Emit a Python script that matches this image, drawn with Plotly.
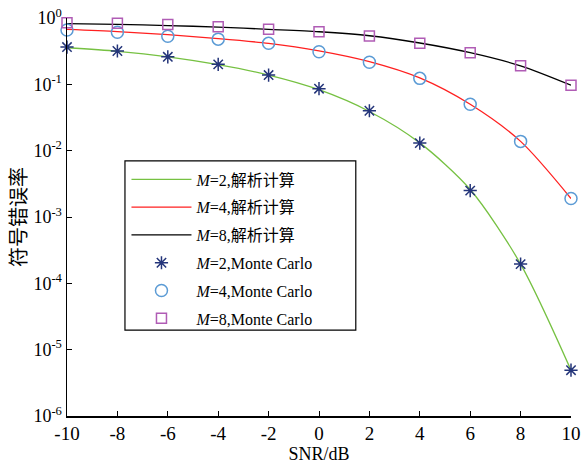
import plotly.graph_objects as go

snr_db = [-10, -8, -6, -4, -2, 0, 2, 4, 6, 8, 10]

# analytic curves
ser_m2_theory = [0.356, 0.315, 0.26, 0.198, 0.138, 0.083, 0.039, 0.0131, 0.0026, 1.95e-4, 4.9e-6]
ser_m4_theory = [0.675, 0.625, 0.56, 0.49, 0.415, 0.32, 0.22, 0.125, 0.05, 0.0138, 0.0019]
ser_m8_theory = [0.82, 0.80, 0.77, 0.73, 0.675, 0.62, 0.54, 0.42, 0.30, 0.19, 0.097]

# Monte Carlo points
ser_m2_mc = [0.365, 0.318, 0.26, 0.20, 0.138, 0.086, 0.040, 0.013, 0.0025, 1.95e-4, 4.9e-6]
ser_m4_mc = [0.66, 0.61, 0.53, 0.48, 0.415, 0.31, 0.215, 0.123, 0.05, 0.0138, 0.0019]
ser_m8_mc = [0.85, 0.83, 0.80, 0.74, 0.675, 0.62, 0.535, 0.415, 0.30, 0.19, 0.097]

x_ticks = [-10, -8, -6, -4, -2, 0, 2, 4, 6, 8, 10]
x_tick_text = ["-10", "-8", "-6", "-4", "-2", "0", "2", "4", "6", "8", "10"]
y_tick_vals = [1, 1e-1, 1e-2, 1e-3, 1e-4, 1e-5, 1e-6]
y_tick_text = ["10<sup>0</sup>", "10<sup>-1</sup>", "10<sup>-2</sup>", "10<sup>-3</sup>",
               "10<sup>-4</sup>", "10<sup>-5</sup>", "10<sup>-6</sup>"]

names = ["<i>M</i>=2,解析计算", "<i>M</i>=4,解析计算", "<i>M</i>=8,解析计算",
         "<i>M</i>=2,Monte Carlo", "<i>M</i>=4,Monte Carlo", "<i>M</i>=8,Monte Carlo"]

serif = "Liberation Serif, Times New Roman, Noto Sans CJK SC, serif"

fig = go.Figure()
line_colors = ["#76c142", "#ff2020", "#000000"]
for i, (ys, c) in enumerate(zip([ser_m2_theory, ser_m4_theory, ser_m8_theory], line_colors)):
    fig.add_trace(go.Scatter(x=snr_db, y=ys, mode="lines", name=names[i],
                             line=dict(color=c, width=1.3, shape="spline", smoothing=0.8),
                             legendgroup=f"g{i}", cliponaxis=False))

marker_specs = [
    (ser_m2_mc, "asterisk-open", "#24357a", 11),
    (ser_m4_mc, "circle-open", "#5b9bd5", 12),
    (ser_m8_mc, "square-open", "#b05cb5", 10),
]
for j, (ys, sym, c, s) in enumerate(marker_specs):
    fig.add_trace(go.Scatter(x=snr_db, y=ys, mode="markers", name=names[3 + j],
                             marker=dict(symbol=sym, size=s, color=c, line=dict(color=c, width=1.5)),
                             legendgroup=f"m{j}", cliponaxis=False))

# legend frame (paper coordinates of the plot area)
fig.add_shape(type="rect", xref="paper", yref="paper",
              x0=0.115, x1=0.573, y0=0.216, y1=0.641,
              line=dict(color="black", width=1.2), fillcolor="white", layer="below")

fig.update_layout(
    width=585, height=464,
    margin=dict(l=67, r=14, t=18, b=48, autoexpand=False),
    paper_bgcolor="white", plot_bgcolor="white",
    font=dict(family=serif, size=18, color="black"),
    showlegend=True,
    legend=dict(x=0.118, y=0.637, xanchor="left", yanchor="top",
                bgcolor="rgba(0,0,0,0)", borderwidth=0,
                font=dict(family=serif, size=16, color="black"),
                traceorder="grouped", tracegroupgap=4, itemwidth=60),
    xaxis=dict(range=[-10, 10], tickvals=x_ticks, ticktext=x_tick_text,
               ticks="inside", ticklen=5, automargin=False,
               tickcolor="black", showline=True, linecolor="black", linewidth=1.5,
               showgrid=False, zeroline=False, mirror=False,
               tickfont=dict(size=19),
               title=dict(text="SNR/dB", font=dict(size=18), standoff=4)),
    yaxis=dict(type="log", range=[-6, 0], tickvals=y_tick_vals, ticktext=y_tick_text,
               ticks="inside", ticklen=5, tickcolor="black", showline=True, automargin=False,
               linecolor="black", linewidth=1.5, showgrid=False, zeroline=False,
               tickfont=dict(size=18),
               title=dict(text="符号错误率", font=dict(size=20), standoff=1)),
)

fig.write_html("out.html", config={"displayModeBar": False, "staticPlot": True},
               post_script="document.body.style.margin='0';")
